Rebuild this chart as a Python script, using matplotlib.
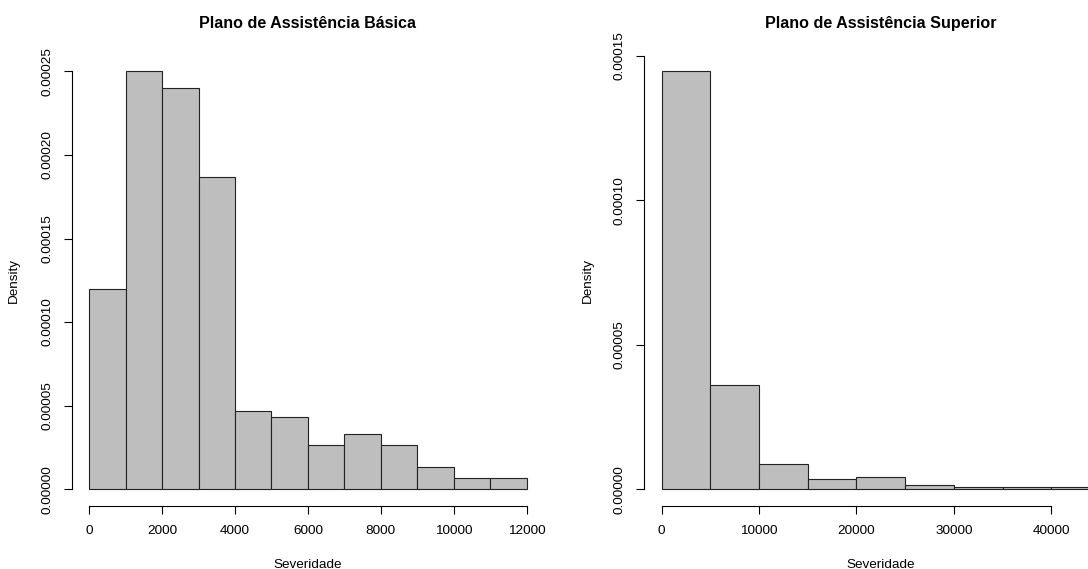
import matplotlib
matplotlib.use("Agg")
import matplotlib.pyplot as plt
import numpy as np

plt.rcParams["font.family"] = ["Liberation Sans", "DejaVu Sans"]

# histogram breaks and densities for each plan
basic_breaks = [0, 1000, 2000, 3000, 4000, 5000, 6000, 7000, 8000, 9000, 10000, 11000, 12000]
basic_density = [0.000120, 0.000250, 0.000240, 0.000187, 0.0000467, 0.0000433,
                 0.0000267, 0.0000333, 0.0000267, 0.0000133, 0.0000067, 0.0000067]
basic_xticks = [0, 2000, 4000, 6000, 8000, 10000, 12000]
basic_yticks = [0.0, 0.00005, 0.00010, 0.00015, 0.00020, 0.00025]

superior_breaks = [0, 5000, 10000, 15000, 20000, 25000, 30000, 35000, 40000, 45000]
superior_density = [0.0001447, 0.0000360, 0.0000087, 0.0000035, 0.0000041,
                    0.0000015, 0.0000008, 0.0000008, 0.0000008]
superior_xticks = [0, 10000, 20000, 30000, 40000]
superior_yticks = [0.0, 0.00005, 0.00010, 0.00015]

W, H = 1088, 569
fig = plt.figure(figsize=(W / 100, H / 100), dpi=100)


def px_axes(left, top, right, bottom):
    return fig.add_axes([left / W, 1 - bottom / H, (right - left) / W, (bottom - top) / H])


def r_hist(ax, breaks, density, xticks, yticks, title, ylabel_x):
    breaks = np.asarray(breaks, dtype=float)
    ax.bar(breaks[:-1], density, width=np.diff(breaks), align="edge",
           color="#bebebe", edgecolor="#222222", linewidth=0.8)

    # R style: 4% padding around the data range
    xr = breaks[-1] - breaks[0]
    ax.set_xlim(breaks[0] - 0.04 * xr, breaks[-1] + 0.04 * xr)
    ymax = max(density)
    ax.set_ylim(-0.04 * ymax, 1.04 * ymax)

    for side in ("top", "right"):
        ax.spines[side].set_visible(False)
    ax.spines["bottom"].set_bounds(xticks[0], xticks[-1])
    ax.spines["left"].set_bounds(yticks[0], yticks[-1])
    for side in ("bottom", "left"):
        ax.spines[side].set_linewidth(0.8)

    ax.set_xticks(xticks)
    ax.set_xticklabels([str(t) for t in xticks])
    ax.set_yticks(yticks)
    ax.set_yticklabels([f"{t:.5f}" for t in yticks], rotation=90, va="center")
    ax.tick_params(axis="both", direction="out", length=6, width=0.8,
                   labelsize=9.7, colors="black")
    ax.tick_params(axis="x", pad=8)
    ax.tick_params(axis="y", pad=7)

    ax.set_title(title, fontsize=11.6, fontweight="bold", pad=19)
    ax.set_xlabel("Severidade", fontsize=9.7)
    ax.xaxis.set_label_coords(0.5, -0.117)
    ax.text(ylabel_x, 0.5, "Density", transform=ax.transAxes, rotation=90,
            ha="center", va="center", fontsize=9.7)


ax1 = px_axes(71.6, 54.6, 544.2, 506)
r_hist(ax1, basic_breaks, basic_density, basic_xticks, basic_yticks,
       "Plano de Assistência Básica", -0.122)

ax2 = px_axes(644.0, 54.6, 1117.5, 506)
r_hist(ax2, superior_breaks, superior_density, superior_xticks, superior_yticks,
       "Plano de Assistência Superior", -0.118)

fig.savefig("out.png", dpi=100)
